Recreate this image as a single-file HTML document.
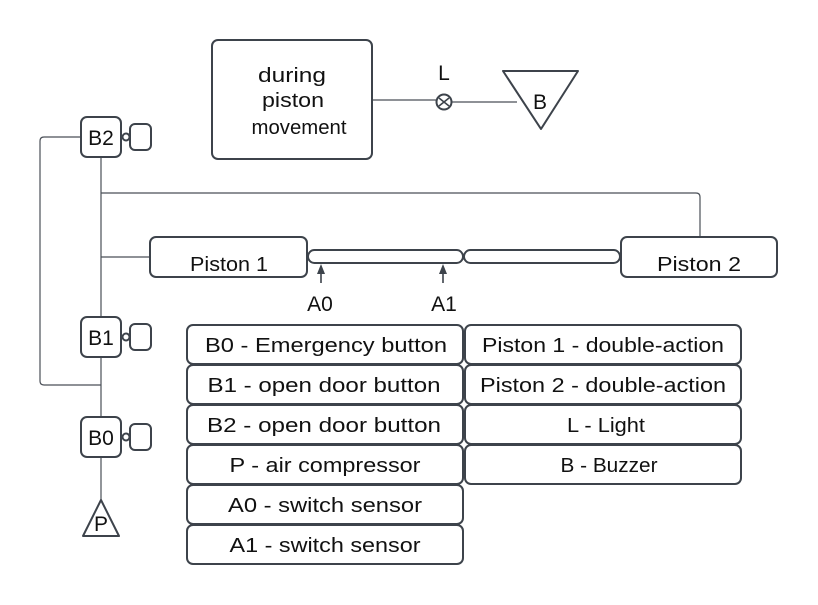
<!DOCTYPE html>
<html><head><meta charset="utf-8"><style>
html,body{margin:0;padding:0;background:#fff;}
svg{display:block;}
text{font-family:"Liberation Sans",sans-serif;fill:#111;}
</style></head><body>
<svg width="818" height="605" viewBox="0 0 818 605" xmlns="http://www.w3.org/2000/svg">
<g fill="none" stroke="#4a4f57" stroke-width="1.2">
  <path d="M81 137 H44 Q40 137 40 141 V381 Q40 385 44 385 H101"/>
  <path d="M101 157 V317 M101 357 V417 M101 457 V500"/>
  <path d="M101 193 H696 Q700 193 700 197 V237"/>
  <path d="M101 257 H150"/>
  <path d="M372 100 H437 M451 102 H517"/>
</g>
<g fill="#fff" stroke="#3d434b" stroke-width="2">
  <rect x="212" y="40" width="160" height="119" rx="6"/>
  <circle cx="444" cy="102" r="7.5"/>
  <path d="M503 71 H578 L541 129 Z" stroke-linejoin="round"/>
  <rect x="81" y="117" width="40" height="40" rx="6"/>
  <circle cx="126" cy="137" r="3.5"/>
  <rect x="130" y="124" width="21" height="26" rx="5"/>
  <rect x="81" y="317" width="40" height="40" rx="6"/>
  <circle cx="126" cy="337" r="3.5"/>
  <rect x="130" y="324" width="21" height="26" rx="5"/>
  <rect x="81" y="417" width="40" height="40" rx="6"/>
  <circle cx="126" cy="437" r="3.5"/>
  <rect x="130" y="424" width="21" height="26" rx="5"/>
  <path d="M101 500 L119 536 H83 Z" stroke-linejoin="round"/>
  <rect x="150" y="237" width="157" height="40" rx="6"/>
  <rect x="621" y="237" width="156" height="40" rx="6"/>
  <rect x="308" y="250" width="155" height="13" rx="6.5"/>
  <rect x="464" y="250" width="156" height="13" rx="6.5"/>
  <rect x="187" y="325" width="276" height="39" rx="6"/>
  <rect x="187" y="365" width="276" height="39" rx="6"/>
  <rect x="187" y="405" width="276" height="39" rx="6"/>
  <rect x="187" y="445" width="276" height="39" rx="6"/>
  <rect x="187" y="485" width="276" height="39" rx="6"/>
  <rect x="187" y="525" width="276" height="39" rx="6"/>
  <rect x="465" y="325" width="276" height="39" rx="6"/>
  <rect x="465" y="365" width="276" height="39" rx="6"/>
  <rect x="465" y="405" width="276" height="39" rx="6"/>
  <rect x="465" y="445" width="276" height="39" rx="6"/>
</g>
<g stroke="#3d434b" stroke-width="1.6">
  <path d="M439 98 L449 106 M449 98 L439 106"/>
  <path d="M321 272 V283 M443 272 V283"/>
</g>
<g fill="#3d434b">
  <path d="M321 264 L317 274 H325 Z"/>
  <path d="M443 264 L439 274 H447 Z"/>
</g>
<g font-size="20" text-anchor="middle">
  <text x="292" y="82" textLength="68" lengthAdjust="spacingAndGlyphs">during</text>
  <text x="293" y="107" textLength="62" lengthAdjust="spacingAndGlyphs">piston</text>
  <text x="299" y="134" textLength="95" lengthAdjust="spacingAndGlyphs">movement</text>
  <text x="444" y="80" font-size="21">L</text>
  <text x="540" y="109" font-size="21">B</text>
  <text x="101" y="145" font-size="21">B2</text>
  <text x="101" y="345" font-size="21">B1</text>
  <text x="101" y="445" font-size="21">B0</text>
  <text x="101" y="531" font-size="21">P</text>
  <text x="229" y="271" textLength="78" lengthAdjust="spacingAndGlyphs">Piston 1</text>
  <text x="699" y="271" textLength="84" lengthAdjust="spacingAndGlyphs">Piston 2</text>
  <text x="320" y="311" font-size="21">A0</text>
  <text x="444" y="311" font-size="21">A1</text>
  <text x="326" y="352" textLength="242" lengthAdjust="spacingAndGlyphs">B0 - Emergency button</text>
  <text x="324" y="392" textLength="233" lengthAdjust="spacingAndGlyphs">B1 - open door button</text>
  <text x="324" y="432" textLength="234" lengthAdjust="spacingAndGlyphs">B2 - open door button</text>
  <text x="325" y="472" textLength="191" lengthAdjust="spacingAndGlyphs">P - air compressor</text>
  <text x="325" y="512" textLength="194" lengthAdjust="spacingAndGlyphs">A0 - switch sensor</text>
  <text x="325" y="552" textLength="191" lengthAdjust="spacingAndGlyphs">A1 - switch sensor</text>
  <text x="603" y="352" textLength="242" lengthAdjust="spacingAndGlyphs">Piston 1 - double-action</text>
  <text x="603" y="392" textLength="246" lengthAdjust="spacingAndGlyphs">Piston 2 - double-action</text>
  <text x="606" y="432" textLength="78" lengthAdjust="spacingAndGlyphs">L - Light</text>
  <text x="609" y="472" textLength="97" lengthAdjust="spacingAndGlyphs">B - Buzzer</text>
</g>
</svg>
</body></html>
